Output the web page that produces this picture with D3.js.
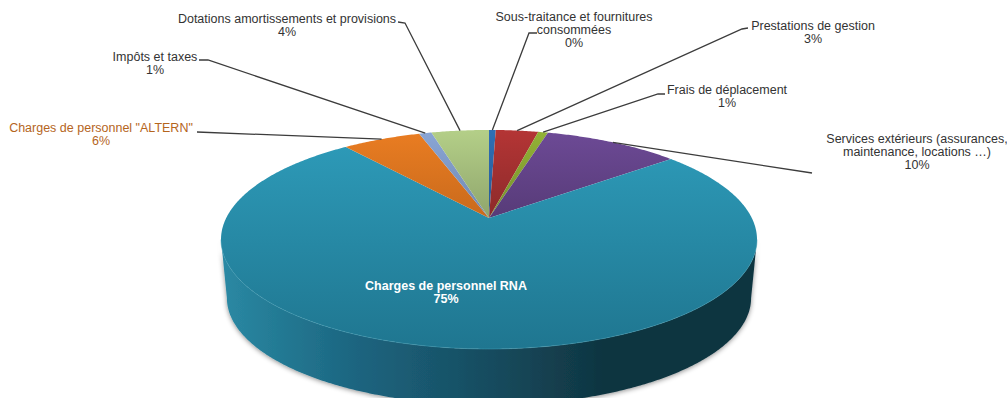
<!DOCTYPE html>
<html lang="fr"><head><meta charset="utf-8">
<script src="https://cdnjs.cloudflare.com/ajax/libs/d3/7.8.5/d3.min.js"></script>
<style>
html,body{margin:0;background:#fff}
svg{display:block}
text{font-family:"Liberation Sans",Arial,sans-serif;font-size:12.5px;fill:#333}
</style></head><body>
<svg id="chart" width="1007" height="398"></svg>
<script>
// Répartition des charges : parts par poste, dans le sens horaire depuis le haut
const categories = [
  "Sous-traitance et fournitures\nconsommées",
  "Prestations de gestion",
  "Frais de déplacement",
  "Services extérieurs (assurances,\nmaintenance, locations …)",
  "Charges de personnel RNA",
  "Charges de personnel \"ALTERN\"",
  "Impôts et taxes",
  "Dotations amortissements et provisions"
];
const shares = [0.49, 3.1, 0.7, 9.9, 75, 5.7, 0.9, 4.2];
const topColors = ["#2f6fb5","#b43535","#93b236","#6d4a96","#2e9cba","#ea7d22","#8aa6d6","#b4cf88"];
const bottomColors = ["#265a94","#8c2a2a","#76902c","#573b78","#1f7690","#c96a1c","#7088b0","#8fa56c"];
const labelColors = ["#333","#333","#333","#333","#ffffff","#b5651d","#333","#333"];

// Étiquettes : position du centre du texte et coude de la ligne de rappel
const labelAnchors = [[574,21],[813,30],[727,94],[917,143],[446,290],[101,132],[155,61],[287,23]];
const leaderStarts = [[537,33,529,33],[748,28,742,29],[665,94,658,94],[812,173,812,173],null,[197,132,197,132],[199,60,208,60],[398,22,405,23]];

const svg = d3.select("#chart");
const cx = 489, apexY = 218;
// Projection en perspective du disque : persp règle la fuite, halfW et halfH l'aplatissement
const persp = 0.196, halfW = 262.8, halfH = 105.3;
const project = (a, scale = 1, dy = 0) => {
  const d = 1 + persp * Math.cos(a);
  return [cx + scale * halfW * Math.sin(a) / d, apexY + dy - scale * halfH * Math.cos(a) / d];
};
const wallDrop = 59, wallScale = 0.978;

const pie = d3.pie().value(d => d).sort(null);
const arcs = pie(shares);
const line = d3.line();
const step = Math.PI / 360;
const rim = (a0, a1, s, dy) => d3.range(a0, a1, step).concat([a1]).map(a => project(a, s, dy));

const defs = svg.append("defs");
shares.forEach((_, i) => {
  // Les petites parts ne couvrent que le haut du disque : leur dégradé s'arrête à l'apex
  const g = defs.append("linearGradient").attr("id", "face" + i)
    .attr("gradientUnits", "userSpaceOnUse").attr("x1", 0).attr("x2", 0)
    .attr("y1", 130).attr("y2", i === 4 ? 349 : 218);
  g.append("stop").attr("offset", 0).attr("stop-color", topColors[i]);
  g.append("stop").attr("offset", 1).attr("stop-color", bottomColors[i]);
});
const wallGrad = defs.append("linearGradient").attr("id", "wall")
  .attr("gradientUnits", "userSpaceOnUse").attr("x1", 221).attr("x2", 757).attr("y1", 0).attr("y2", 0);
[[0,"#2b89a4"],[0.1,"#247b95"],[0.25,"#1c6580"],[0.5,"#174c5f"],[0.72,"#0f3440"],[1,"#113541"]]
  .forEach(([o,c]) => wallGrad.append("stop").attr("offset", o).attr("stop-color", c));
const shadow = defs.append("filter").attr("id", "soft").attr("x", "-5%").attr("y", "-5%").attr("width", "110%").attr("height", "115%");
shadow.append("feDropShadow").attr("dx", 0).attr("dy", 1).attr("stdDeviation", 2.5).attr("flood-color", "#000").attr("flood-opacity", 0.45);

// Paroi avant : seule la part principale descend jusqu'au bas du cylindre
const tangent = Math.acos(-persp);
const front = [...rim(tangent, 2 * Math.PI - tangent, 1, 0),
               ...rim(tangent, 2 * Math.PI - tangent, wallScale, wallDrop).reverse()];
svg.append("path").attr("d", line(front) + "Z").attr("fill", "url(#wall)").attr("filter", "url(#soft)");

// Face supérieure
svg.append("g").selectAll("path").data(arcs).join("path")
  .attr("d", d => line([[cx, apexY], ...rim(d.startAngle, d.endAngle, 1, 0)]) + "Z")
  .attr("fill", (d, i) => `url(#face${i})`);
// Liseré clair sur le bord avant
svg.append("path").attr("d", line(rim(tangent, 2 * Math.PI - tangent, 1, 0)))
  .attr("fill", "none").attr("stroke", "#3f9db6").attr("stroke-width", 1).attr("opacity", 0.5);

// Lignes de rappel : du coude jusqu'au milieu de l'arc de chaque part
const leaders = svg.append("g").attr("fill", "none").attr("stroke", "#3c3c3c").attr("stroke-width", 1.3);
arcs.forEach((d, i) => {
  if (!leaderStarts[i]) return;
  const [x0, y0, x1, y1] = leaderStarts[i];
  leaders.append("path").attr("d", line([[x0, y0], [x1, y1], project((d.startAngle + d.endAngle) / 2)]));
});

// Textes : nom du poste puis pourcentage arrondi
const labels = svg.append("g").attr("text-anchor", "middle");
categories.forEach((name, i) => {
  const [x, y] = labelAnchors[i];
  const rows = [...name.split("\n"), d3.format(".0f")(shares[i]) + "%"];
  const t = labels.append("text").attr("x", x).attr("y", y)
    .style("fill", labelColors[i]).style("font-weight", i === 4 ? "bold" : null);
  rows.forEach((r, j) => t.append("tspan").attr("x", x).attr("dy", j ? 12.8 : 0).text(r));
});
</script></body></html>
